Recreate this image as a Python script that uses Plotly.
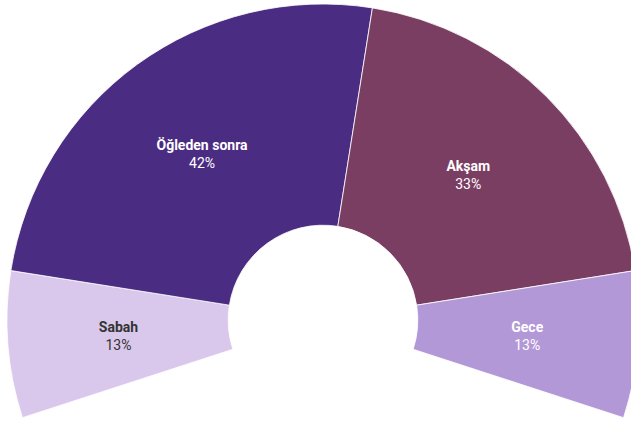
import plotly.graph_objects as go

# time-of-day split (counts), plus a hidden filler so the ring spans ~216 degrees
labels = ["Sabah", "Öğleden sonra", "Akşam", "Gece"]
values = [3, 10, 8, 3]
filler = 16
colors = ["#d9c8ec", "#4b2c83", "#7b3e63", "#b398d7"]
text_colors = ["#333333", "#ffffff", "#ffffff", "#ffffff"]
small = [True, False, False, True]  # narrow slices get their label from a smaller overlay pie

total = sum(values)
texts = [
    f"<b>{lab}</b><br><span style='font-weight:400'>{round(v / total * 100 + 1e-9):.0f}%</span>"
    for lab, v in zip(labels, values)
]
clear = "rgba(0,0,0,0)"

fig = go.Figure()
# main ring
fig.add_trace(
    go.Pie(
        labels=labels + [""],
        values=values + [filler],
        text=[("" if s else t) for t, s in zip(texts, small)] + [""],
        textinfo="text",
        textposition="inside",
        insidetextorientation="horizontal",
        insidetextfont=dict(family="Roboto", size=14, color=text_colors + [clear]),
        hole=0.3,
        sort=False,
        direction="clockwise",
        rotation=252,
        marker=dict(
            colors=colors + [clear],
            line=dict(color="#ffffff", width=[0.8, 0.8, 0.8, 0.8, 0]),
        ),
        hoverinfo="skip",
        showlegend=False,
    )
)
# transparent overlay that only carries the labels of the narrow slices
fig.add_trace(
    go.Pie(
        labels=labels + [""],
        values=values + [filler],
        text=[(t if s else "") for t, s in zip(texts, small)] + [""],
        textinfo="text",
        textposition="inside",
        insidetextorientation="horizontal",
        insidetextfont=dict(family="Roboto", size=14, color=text_colors + [clear]),
        sort=False,
        direction="clockwise",
        rotation=252,
        domain=dict(x=[0.1084, 0.8916], y=[0.0997, 0.9003]),
        marker=dict(colors=[clear] * 5, line=dict(width=0)),
        hoverinfo="skip",
        showlegend=False,
    )
)

fig.update_layout(
    width=646,
    height=640,
    margin=dict(l=0, r=0, t=4, b=4),
    paper_bgcolor="white",
    plot_bgcolor="white",
    font=dict(family="Roboto"),
)

fig.write_html(
    "out.html",
    config=dict(displayModeBar=False),
    post_script="document.body.style.margin='0';document.body.style.overflow='hidden';"
    "document.documentElement.style.overflow='hidden';",
)
